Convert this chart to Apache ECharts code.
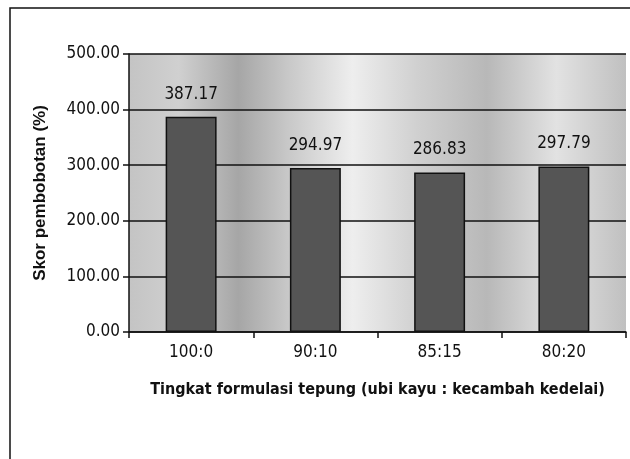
<!DOCTYPE html>
<html>
<head>
<meta charset="utf-8">
<script src="https://cdn.jsdelivr.net/npm/echarts@6/dist/echarts.min.js"></script>
<style>
  html, body { margin: 0; padding: 0; background: #fff; }
  #main { width: 630px; height: 459px; }
</style>
</head>
<body>
<div id="main"></div>
<script>
var myChart = echarts.init(document.getElementById('main'));

// kategori formulasi tepung
var categories = ['100:0', '90:10', '85:15', '80:20'];
// skor pembobotan (%)
var scores = [387.17, 294.97, 286.83, 297.79];
var yTicks = [0, 100, 200, 300, 400, 500];

var narrow = '"Liberation Sans Narrow", "DejaVu Sans Condensed", Arial, sans-serif';

// latar plot: abu-abu belang seperti hasil scan
var plotBg = new echarts.graphic.LinearGradient(0, 0, 1, 0, [
    { offset: 0.00, color: '#c4c4c4' },
    { offset: 0.10, color: '#d0d0d0' },
    { offset: 0.22, color: '#a6a6a6' },
    { offset: 0.32, color: '#c8c8c8' },
    { offset: 0.45, color: '#eeeeee' },
    { offset: 0.58, color: '#d0d0d0' },
    { offset: 0.72, color: '#b8b8b8' },
    { offset: 0.86, color: '#e2e2e2' },
    { offset: 1.00, color: '#c0c0c0' }
]);

option = {
    animation: false,
    backgroundColor: '#fff',
    graphic: [{
        type: 'rect',
        shape: { x: 10, y: 8, width: 640, height: 480 },
        style: { fill: 'none', stroke: '#111', lineWidth: 1.5 },
        silent: true
    }],
    grid: {
        left: 129,
        right: 4,
        top: 54,
        bottom: 127,
        outerBoundsMode: 'none',
        containLabel: false,
        show: true,
        backgroundColor: plotBg,
        borderWidth: 0
    },
    xAxis: {
        type: 'category',
        data: categories,
        name: 'Tingkat formulasi tepung (ubi kayu : kecambah kedelai)',
        nameLocation: 'middle',
        nameGap: 50,
        nameTextStyle: {
            fontFamily: narrow,
            fontWeight: 'bold',
            fontSize: 16,
            color: '#111'
        },
        axisLine: { lineStyle: { color: '#111', width: 1.5 } },
        axisTick: { show: true, length: 6, lineStyle: { color: '#111', width: 1.5 } },
        axisLabel: {
            fontFamily: narrow,
            fontSize: 17,
            color: '#111',
            margin: 12
        }
    },
    yAxis: {
        type: 'value',
        min: yTicks[0],
        max: yTicks[yTicks.length - 1],
        interval: 100,
        name: 'Skor pembobotan (%)',
        nameLocation: 'middle',
        nameGap: 80,
        nameTextStyle: {
            fontFamily: 'Arial, "Liberation Sans", sans-serif',
            fontWeight: 'bold',
            fontSize: 17,
            color: '#111'
        },
        axisLine: { show: true, lineStyle: { color: '#111', width: 1.5 } },
        axisTick: { show: true, length: 6, lineStyle: { color: '#111', width: 1.5 } },
        axisLabel: {
            fontFamily: narrow,
            fontSize: 17,
            color: '#111',
            margin: 9,
            formatter: function (v) { return v.toFixed(2); }
        },
        splitLine: { lineStyle: { color: '#111', width: 1.5 } }
    },
    series: [{
        type: 'bar',
        data: scores,
        barWidth: '41%',
        itemStyle: {
            color: '#555555',
            borderColor: '#111',
            borderWidth: 1.5
        },
        label: {
            show: true,
            position: 'top',
            distance: 14,
            fontFamily: narrow,
            fontSize: 17,
            color: '#111',
            formatter: function (p) { return p.value.toFixed(2); }
        }
    }]
};

myChart.setOption(option);
</script>
</body>
</html>
